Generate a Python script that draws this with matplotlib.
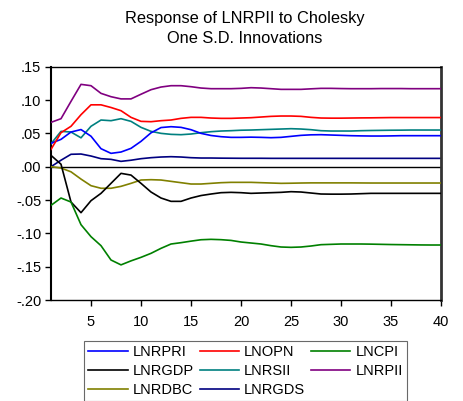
import matplotlib
matplotlib.use("Agg")
import matplotlib.pyplot as plt
import numpy as np

periods = list(range(1, 41))

lnrpri = [0.035, 0.041, 0.052, 0.0557, 0.0457, 0.027, 0.020, 0.022, 0.0275, 0.038,
          0.0508, 0.0587, 0.060, 0.059, 0.0555, 0.050, 0.0468, 0.045, 0.044, 0.044,
          0.0443, 0.044, 0.0435, 0.044, 0.0455, 0.047, 0.0478, 0.048, 0.0475, 0.047,
          0.0465, 0.0462, 0.046, 0.046, 0.0462, 0.0465, 0.0465, 0.0465, 0.0465, 0.0465]
lnopn = [0.026, 0.051, 0.0606, 0.078, 0.0928, 0.0928, 0.0888, 0.084, 0.074, 0.068,
         0.0675, 0.069, 0.070, 0.0725, 0.074, 0.074, 0.073, 0.0725, 0.0725, 0.073,
         0.0735, 0.0745, 0.0755, 0.076, 0.076, 0.0755, 0.074, 0.073, 0.0728, 0.0728,
         0.073, 0.0732, 0.0733, 0.0735, 0.0737, 0.0737, 0.0737, 0.0737, 0.0737, 0.0737]
lncpi = [-0.058, -0.047, -0.053, -0.087, -0.105, -0.1185, -0.140, -0.1473, -0.1413, -0.136,
         -0.130, -0.1225, -0.116, -0.114, -0.1117, -0.1096, -0.109, -0.1095, -0.1106, -0.113,
         -0.1145, -0.116, -0.1185, -0.1205, -0.121, -0.1205, -0.119, -0.117, -0.1165, -0.116,
         -0.116, -0.116, -0.1162, -0.1165, -0.1168, -0.117, -0.1172, -0.1174, -0.1175, -0.1175]
lnrgdp = [0.017, 0.0037, -0.053, -0.069, -0.051, -0.040, -0.025, -0.010, -0.0126, -0.025,
          -0.038, -0.047, -0.052, -0.052, -0.047, -0.0433, -0.041, -0.039, -0.0385, -0.039,
          -0.040, -0.0395, -0.039, -0.0385, -0.0375, -0.038, -0.0395, -0.041, -0.0412, -0.0412,
          -0.041, -0.0405, -0.040, -0.040, -0.040, -0.040, -0.040, -0.040, -0.040, -0.040]
lnrsii = [0.0344, 0.053, 0.052, 0.0433, 0.0606, 0.070, 0.069, 0.072, 0.068, 0.059,
          0.053, 0.050, 0.0485, 0.048, 0.049, 0.051, 0.0525, 0.0535, 0.054, 0.0547,
          0.055, 0.0555, 0.056, 0.0565, 0.057, 0.0565, 0.0555, 0.054, 0.0535, 0.0535,
          0.0535, 0.054, 0.0543, 0.0545, 0.0547, 0.0548, 0.055, 0.055, 0.055, 0.055]
lnrpii = [0.0665, 0.072, 0.098, 0.1235, 0.1215, 0.110, 0.105, 0.1017, 0.1017, 0.1087,
          0.1155, 0.1195, 0.1215, 0.1215, 0.120, 0.118, 0.117, 0.117, 0.117, 0.1175,
          0.1185, 0.118, 0.117, 0.116, 0.116, 0.116, 0.1168, 0.1175, 0.1175, 0.1172,
          0.117, 0.117, 0.117, 0.1172, 0.1172, 0.1172, 0.117, 0.117, 0.117, 0.117]
lnrdbc = [0.0, -0.002, -0.0077, -0.0186, -0.0285, -0.0324, -0.0324, -0.0295, -0.025, -0.020,
          -0.0195, -0.020, -0.022, -0.024, -0.026, -0.026, -0.025, -0.024, -0.0235, -0.0235,
          -0.0235, -0.024, -0.0245, -0.025, -0.0248, -0.0245, -0.0243, -0.0243, -0.0243, -0.0243,
          -0.0243, -0.0244, -0.0245, -0.0245, -0.0245, -0.0245, -0.0245, -0.0245, -0.0245, -0.0245]
lnrgds = [0.0, 0.0097, 0.0186, 0.019, 0.016, 0.012, 0.011, 0.008, 0.0097, 0.012,
          0.0135, 0.0145, 0.015, 0.0145, 0.0135, 0.013, 0.013, 0.0128, 0.0127, 0.0126,
          0.0126, 0.0126, 0.0125, 0.0125, 0.0125, 0.0125, 0.0125, 0.0125, 0.0125, 0.0125,
          0.0125, 0.0125, 0.0125, 0.0125, 0.0125, 0.0125, 0.0125, 0.0125, 0.0125, 0.0125]

series = [
    ("LNRPRI", lnrpri, "#0000FF"),
    ("LNRGDP", lnrgdp, "#000000"),
    ("LNRDBC", lnrdbc, "#808000"),
    ("LNOPN", lnopn, "#FF0000"),
    ("LNRSII", lnrsii, "#008080"),
    ("LNRGDS", lnrgds, "#000080"),
    ("LNCPI", lncpi, "#008000"),
    ("LNRPII", lnrpii, "#800080"),
]

yticks = [0.15, 0.10, 0.05, 0.00, -0.05, -0.10, -0.15, -0.20]
ytick_labels = [".15", ".10", ".05", ".00", "-.05", "-.10", "-.15", "-.20"]
xticks = [5, 10, 15, 20, 25, 30, 35, 40]

plt.rcParams['font.family'] = ['Liberation Sans', 'DejaVu Sans']

fig = plt.figure(figsize=(4.63, 4.01), dpi=100)
ax = fig.add_axes([51/463, 1-300/401, 390/463, (300-66.7)/401])

ax.axhline(0, color="black", lw=1.0, zorder=1)
draw_order = ["LNRGDS", "LNRDBC", "LNRGDP", "LNCPI", "LNRSII", "LNRPRI", "LNOPN", "LNRPII"]
lines = {}
for name, vals, col in series:
    (ln,) = ax.plot(periods, vals, color=col, lw=1.2, label=name,
                    zorder=2 + draw_order.index(name))
    lines[name] = ln

ax.set_xlim(1, 40)
ax.set_ylim(-0.20, 0.15)
ax.set_yticks(yticks)
ax.set_yticklabels(ytick_labels)
ax.set_xticks(xticks)
ax.tick_params(axis="both", direction="out", length=4, width=1, labelsize=10.5, colors="black")
ax.tick_params(axis="x", pad=6.5)
ax.tick_params(axis="y", pad=3)
for side in ["left", "bottom", "top"]:
    ax.spines[side].set_linewidth(1.0)
ax.spines["left"].set_linewidth(1.5)
ax.spines["right"].set_linewidth(2.0)
ax.spines["right"].set_color("#333333")

fig.text(245/463, 1-19/401, "Response of LNRPII to Cholesky", ha="center", va="center", fontsize=11.8)
fig.text(245/463, 1-38.5/401, "One S.D. Innovations", ha="center", va="center", fontsize=11.8)

handles = [lines[n] for n, _, _ in series]
leg = fig.legend(handles=handles, labels=[n for n, _, _ in series], ncol=3,
                 loc="center", bbox_to_anchor=(245.5/463, 1-371/401),
                 frameon=True, fancybox=False, edgecolor="#444444",
                 fontsize=10.5, handlelength=2.7, handletextpad=0.35,
                 columnspacing=0.4, labelspacing=0.32, borderpad=0.3,
                 borderaxespad=0)
leg.get_frame().set_linewidth(0.8)

fig.savefig("out.png", dpi=100)
